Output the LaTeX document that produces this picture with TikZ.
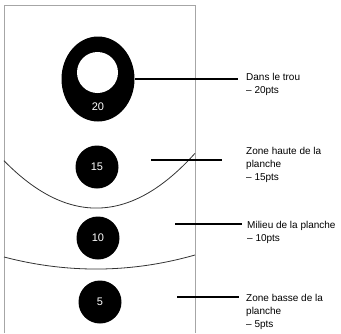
\documentclass[tikz,border=0pt]{standalone}
\usepackage{fontspec}
\setmainfont{Liberation Sans}
\usetikzlibrary{shapes.geometric}
\begin{document}
\begin{tikzpicture}[x=1pt,y=-1pt,
  board/.style={draw=black!35,line width=0.9pt},
  zoneline/.style={draw=black!80,line width=0.8pt},
  target/.style={circle,fill=black,minimum size=43pt,inner sep=0pt,text=white,font=\fontsize{11}{12}\selectfont},
  conn/.style={draw=black,line width=1.2pt},
  lbl/.style={anchor=north west,inner sep=0pt,align=left,font=\fontsize{10}{13}\selectfont}]
\useasboundingbox (0,0) rectangle (341,333);
% board
\draw[board] (4,333) -- (4,5) -- (195,5) -- (195,333);
% zone curves
\draw[zoneline] (4,160.7) .. controls (68,226.2) and (131.7,223.8) .. (195,153.3);
\draw[zoneline] (4,257) .. controls (68,273.7) and (131.7,273) .. (195,255);
% hole
\node[ellipse,fill=black,minimum width=73pt,minimum height=85pt,inner sep=0pt] (hole) at (98,79) {};
\node[circle,fill=white,minimum size=41pt,inner sep=0pt] (inner) at (97.5,72.5) {};
\node[text=white,font=\fontsize{11}{12}\selectfont,inner sep=0pt] (n20) at (98,107) {20};
% targets
\node[target] (t15) at (97,167) {15};
\node[target] (t10) at (98,238) {10};
\node[target] (t5) at (100,302) {5};
% connector coordinates
\coordinate (e20) at (238,79);
\coordinate (s15) at (151,160);
\coordinate (e15) at (222,160);
\coordinate (s10) at (175,224);
\coordinate (e10) at (242,224);
\coordinate (s5) at (177,297);
\coordinate (e5) at (239,297);
\draw[conn] (hole.east) -- (e20);
\draw[conn] (s15) -- (e15);
\draw[conn] (s10) -- (e10);
\draw[conn] (s5) -- (e5);
% labels
\node[lbl] (l20) at (246,73) {Dans le trou\\– 20pts};
\node[lbl] (l15) at (246,147) {Zone haute de la\\planche\\– 15pts};
\node[lbl] (l10) at (247,221.5) {Milieu de la planche\\– 10pts};
\node[lbl] (l5) at (246,294) {Zone basse de la\\planche\\– 5pts};
\end{tikzpicture}
\end{document}
